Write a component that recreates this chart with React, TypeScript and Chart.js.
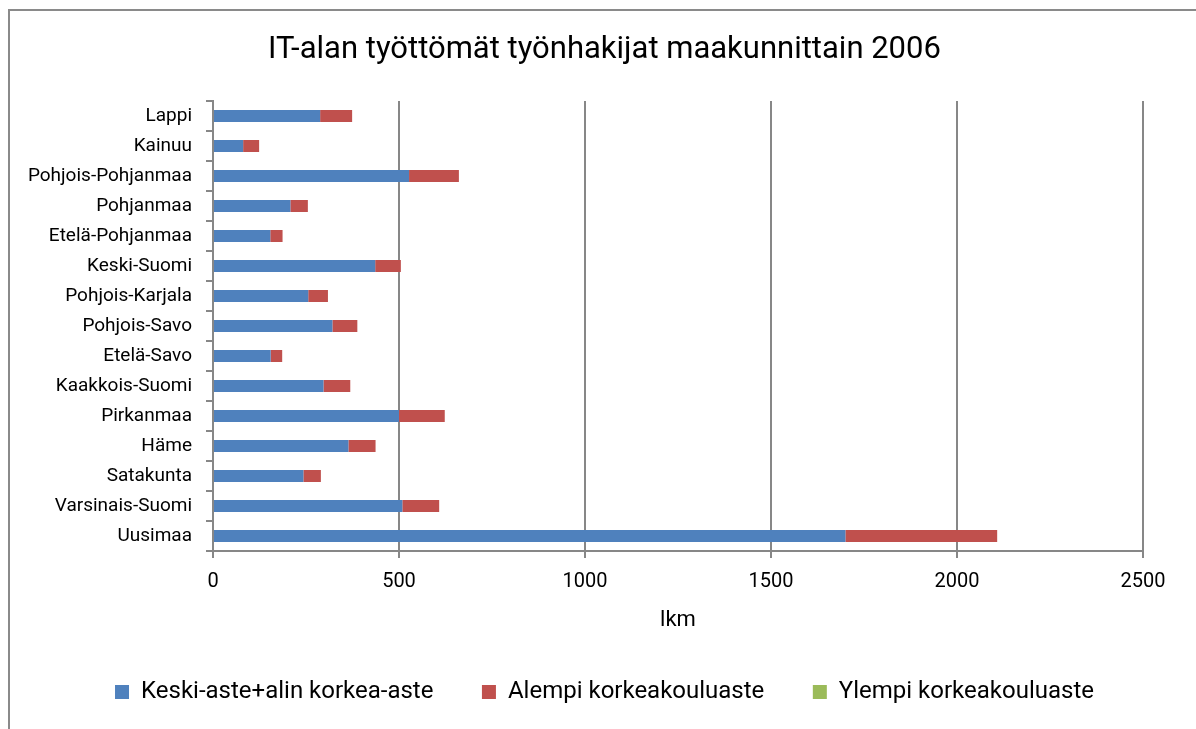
import React, { useEffect, useRef } from "react";
import { Chart, registerables } from "chart.js";

Chart.register(...registerables);

const categories = [
  "Lappi",
  "Kainuu",
  "Pohjois-Pohjanmaa",
  "Pohjanmaa",
  "Etelä-Pohjanmaa",
  "Keski-Suomi",
  "Pohjois-Karjala",
  "Pohjois-Savo",
  "Etelä-Savo",
  "Kaakkois-Suomi",
  "Pirkanmaa",
  "Häme",
  "Satakunta",
  "Varsinais-Suomi",
  "Uusimaa",
];

const keskiAste = [288, 81, 527, 208, 154, 436, 256, 321, 155, 297, 500, 364, 243, 509, 1700];
const alempi = [86, 43, 134, 47, 33, 69, 53, 67, 31, 72, 123, 73, 47, 99, 408];
const ylempi = [0, 0, 0, 0, 0, 0, 0, 0, 0, 0, 0, 0, 0, 0, 0];

const seriesNames = ["Keski-aste+alin korkea-aste", "Alempi korkeakouluaste", "Ylempi korkeakouluaste"];
const titleText = "IT-alan työttömät työnhakijat maakunnittain 2006";
const xAxisTitle = "lkm";
const xMin = 0;
const xMax = 2500;
const xStep = 500;

const FONT = "Roboto, 'Noto Sans', sans-serif";
const GRID = "#878787";
const LEFT_PAD = 56;

export default function App() {
  const canvasRef = useRef<HTMLCanvasElement | null>(null);

  useEffect(() => {
    const canvas = canvasRef.current;
    if (!canvas) return;
    const chart = new Chart(canvas, {
      type: "bar",
      data: {
        labels: categories,
        datasets: [
          { label: seriesNames[0], data: keskiAste, backgroundColor: "#4F81BD", borderWidth: 0 },
          { label: seriesNames[1], data: alempi, backgroundColor: "#C0504D", borderWidth: 0 },
          { label: seriesNames[2], data: ylempi, backgroundColor: "#9BBB59", borderWidth: 0 },
        ],
      },
      options: {
        indexAxis: "y",
        responsive: false,
        animation: false,
        devicePixelRatio: 1,
        datasets: { bar: { categoryPercentage: 1, barPercentage: 0.4 } },
        layout: { padding: { left: LEFT_PAD, right: 53, top: 0, bottom: 15 } },
        plugins: {
          title: {
            display: true,
            text: titleText,
            color: "#000",
            font: { family: FONT, size: 31, weight: "normal", lineHeight: 1.2 },
            padding: { top: 20.4, bottom: 32.4 },
          },
          legend: {
            display: true,
            position: "bottom",
            labels: {
              color: "#000",
              font: { family: FONT, size: 24, lineHeight: 1.2 },
              boxWidth: 14,
              boxHeight: 14,
              padding: 48.5,
            },
          },
          tooltip: { enabled: false },
        },
        scales: {
          x: {
            stacked: true,
            min: xMin,
            max: xMax,
            ticks: {
              stepSize: xStep,
              color: "#000",
              padding: 12,
              font: { family: FONT, size: 20, lineHeight: 1.2 },
              callback: (v: any) => String(v),
            },
            grid: { color: GRID, lineWidth: 2, tickLength: 7, drawTicks: true },
            border: { color: GRID, width: 2 },
            title: {
              display: true,
              text: xAxisTitle,
              color: "#000",
              font: { family: FONT, size: 22, lineHeight: 1 },
              padding: { top: 0, bottom: 0 },
            },
            afterFit: (scale: any) => {
              scale.height = 80.5;
            },
          },
          y: {
            stacked: true,
            ticks: {
              color: "#000",
              padding: 14,
              font: { family: FONT, size: 19, lineHeight: 1.2 },
            },
            grid: {
              offset: true,
              drawOnChartArea: false,
              drawTicks: true,
              tickLength: 7,
              color: GRID,
              lineWidth: 2,
            },
            border: { color: GRID, width: 2 },
            afterFit: (scale: any) => {
              scale.width = 203 - LEFT_PAD;
              // let the category labels extend left of the axis box without clipping
              scale._computeLabelArea = () => undefined;
            },
          },
        },
      },
    });
    return () => chart.destroy();
  }, []);

  return (
    <div
      style={{
        position: "absolute",
        left: 8,
        top: 9,
        width: 1186,
        height: 718,
        borderLeft: "2px solid #8a8a8a",
        borderTop: "2px solid #8a8a8a",
        background: "#fff",
      }}
    >
      <canvas ref={canvasRef} width={1186} height={718} style={{ display: "block" }} />
    </div>
  );
}
